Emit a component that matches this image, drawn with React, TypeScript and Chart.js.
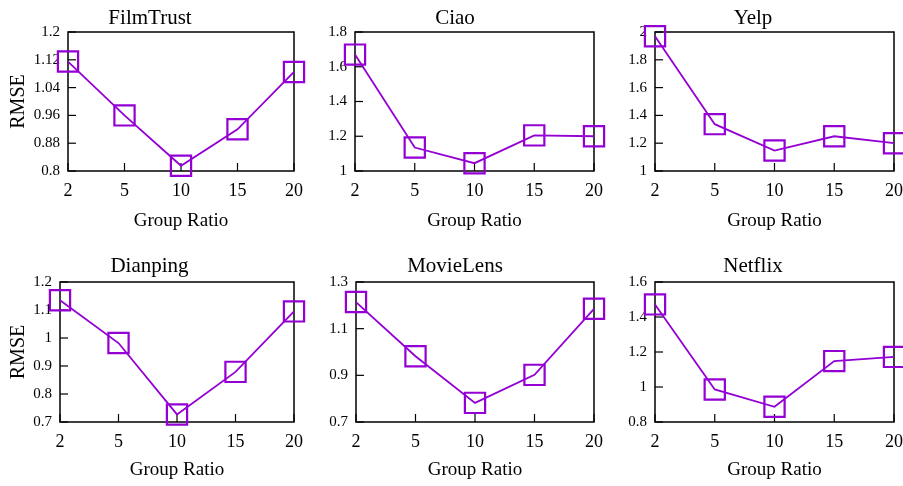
import React, { useEffect, useRef } from 'react';
import { Chart, registerables } from 'chart.js';

Chart.register(...registerables);

// ---- data ----
const categories = ['2', '5', '10', '15', '20'];

const filmTrustRmse = [1.115, 0.96, 0.815, 0.92, 1.085];
const ciaoRmse = [1.67, 1.135, 1.045, 1.205, 1.2];
const yelpRmse = [1.97, 1.337, 1.147, 1.25, 1.2];
const dianpingRmse = [1.135, 0.982, 0.727, 0.879, 1.095];
const movieLensRmse = [1.214, 0.982, 0.782, 0.902, 1.185];
const netflixRmse = [1.472, 0.986, 0.887, 1.148, 1.172];

const filmTrustTicks = [0.8, 0.88, 0.96, 1.04, 1.12, 1.2];
const ciaoTicks = [1, 1.2, 1.4, 1.6, 1.8];
const yelpTicks = [1, 1.2, 1.4, 1.6, 1.8, 2];
const dianpingTicks = [0.7, 0.8, 0.9, 1, 1.1, 1.2];
const movieLensTicks = [0.7, 0.9, 1.1, 1.3];
const netflixTicks = [0.8, 1, 1.2, 1.4, 1.6];

const panelTitles = ['FilmTrust', 'Ciao', 'Yelp', 'Dianping', 'MovieLens', 'Netflix'];
const panelValues = [filmTrustRmse, ciaoRmse, yelpRmse, dianpingRmse, movieLensRmse, netflixRmse];
const panelTicks = [filmTrustTicks, ciaoTicks, yelpTicks, dianpingTicks, movieLensTicks, netflixTicks];

const xAxisTitle = 'Group Ratio';
const yAxisTitle = 'RMSE';

// ---- layout (pixels) ----
type Box = { cx: number; cy: number; cw: number; ch: number; L: number; T: number; R: number; B: number; titleY: number; xTitleY: number; showY: boolean };

const rows = [
  { cy: 0, ch: 240, T: 32, B: 171, titleY: 17, xTitleY: 221 },
  { cy: 240, ch: 246, T: 282, B: 422, titleY: 265, xTitleY: 470 },
];
const cols = [
  { cx: 0, cw: 312, L: [68, 60], R: [300, 299], showY: true },
  { cx: 312, cw: 300, L: [355, 356], R: [598, 598], showY: false },
  { cx: 612, cw: 320, L: [655, 655], R: [894, 894], showY: false },
];

const boxes: Box[] = [];
rows.forEach((r, ri) => {
  cols.forEach((c) => {
    boxes.push({
      cx: c.cx, cy: r.cy, cw: c.cw, ch: r.ch,
      L: c.L[ri], R: c.R[ri], T: r.T, B: r.B,
      titleY: r.titleY, xTitleY: r.xTitleY, showY: c.showY,
    });
  });
});

const FONT = "'Liberation Serif', 'Times New Roman', serif";
const PURPLE = '#9400D3';

const framePlugin = {
  id: 'frame',
  beforeDatasetsDraw(chart: any) {
    const { ctx, chartArea: a, scales } = chart;
    ctx.save();
    ctx.strokeStyle = '#000';
    ctx.lineWidth = 1.5;
    ctx.strokeRect(a.left, a.top, a.right - a.left, a.bottom - a.top);
    ctx.lineWidth = 1.2;
    const xs = scales.x;
    xs.ticks.forEach((_t: any, i: number) => {
      const px = xs.getPixelForTick(i);
      ctx.beginPath();
      ctx.moveTo(px, a.bottom);
      ctx.lineTo(px, a.bottom - 8);
      ctx.stroke();
    });
    const ys = scales.y;
    ys.ticks.forEach((_t: any, i: number) => {
      const py = ys.getPixelForTick(i);
      ctx.beginPath();
      ctx.moveTo(a.left, py);
      ctx.lineTo(a.left + 8, py);
      ctx.stroke();
    });
    ctx.restore();
  },
};

function Panel({ idx }: { idx: number }) {
  const ref = useRef<HTMLCanvasElement | null>(null);
  const b = boxes[idx];
  useEffect(() => {
    if (!ref.current) return;
    const ticks = panelTicks[idx];
    const chart = new Chart(ref.current, {
      type: 'line',
      data: {
        labels: categories,
        datasets: [
          {
            data: panelValues[idx],
            borderColor: PURPLE,
            borderWidth: 1.8,
            pointStyle: 'rect',
            pointRadius: 14.3,
            pointHoverRadius: 14.3,
            pointBorderWidth: 2.2,
            pointBorderColor: PURPLE,
            pointBackgroundColor: 'rgba(0,0,0,0)',
            tension: 0,
            clip: false as any,
          },
        ],
      },
      options: {
        responsive: false,
        animation: false,
        events: [],
        layout: { padding: { left: 0, top: 0, bottom: 0, right: b.cx + b.cw - b.R } },
        plugins: {
          legend: { display: false },
          tooltip: { enabled: false },
          title: {
            display: true,
            text: panelTitles[idx],
            color: '#000',
            font: { family: FONT, size: 21, weight: 'normal', lineHeight: 1.2 },
            padding: { top: b.titleY - b.cy - 12.6 + 1, bottom: b.T - b.titleY - 12.6 - 1 },
          },
        },
        scales: {
          x: {
            type: 'category',
            offset: false,
            grid: { display: false, drawTicks: false },
            border: { display: false },
            ticks: {
              color: '#000',
              font: { family: FONT, size: 18 },
              padding: 9,
              autoSkip: false,
              maxRotation: 0,
            },
            title: {
              display: true,
              text: xAxisTitle,
              color: '#000',
              font: { family: FONT, size: 19, lineHeight: 1.2 },
              padding: { top: 0, bottom: b.cy + b.ch - b.xTitleY - 11.4 },
            },
            afterFit: (s: any) => {
              s.height = b.cy + b.ch - b.B;
            },
          },
          y: {
            type: 'linear',
            min: ticks[0],
            max: ticks[ticks.length - 1],
            grid: { display: false, drawTicks: false },
            border: { display: false },
            afterBuildTicks: (s: any) => {
              s.ticks = ticks.map((v) => ({ value: v }));
            },
            ticks: {
              color: '#000',
              font: { family: FONT, size: 15 },
              padding: 8,
              callback: (v: any) => String(v),
            },
            title: {
              display: b.showY,
              text: yAxisTitle,
              color: '#000',
              font: { family: FONT, size: 20, lineHeight: 1.2 },
              padding: { top: 7, bottom: 0 },
            },
            afterFit: (s: any) => {
              s.width = b.L - b.cx;
            },
          },
        },
      },
      plugins: [framePlugin],
    });
    return () => chart.destroy();
  }, []);
  return (
    <canvas
      ref={ref}
      width={b.cw}
      height={b.ch}
      style={{ position: 'absolute', left: b.cx, top: b.cy, width: b.cw, height: b.ch }}
    />
  );
}

export default function App() {
  return (
    <div
      style={{
        position: 'absolute',
        left: 0,
        top: 0,
        width: 903,
        height: 486,
        overflow: 'hidden',
        background: '#fff',
      }}
    >
      {panelTitles.map((_t, i) => (
        <Panel key={i} idx={i} />
      ))}
    </div>
  );
}
